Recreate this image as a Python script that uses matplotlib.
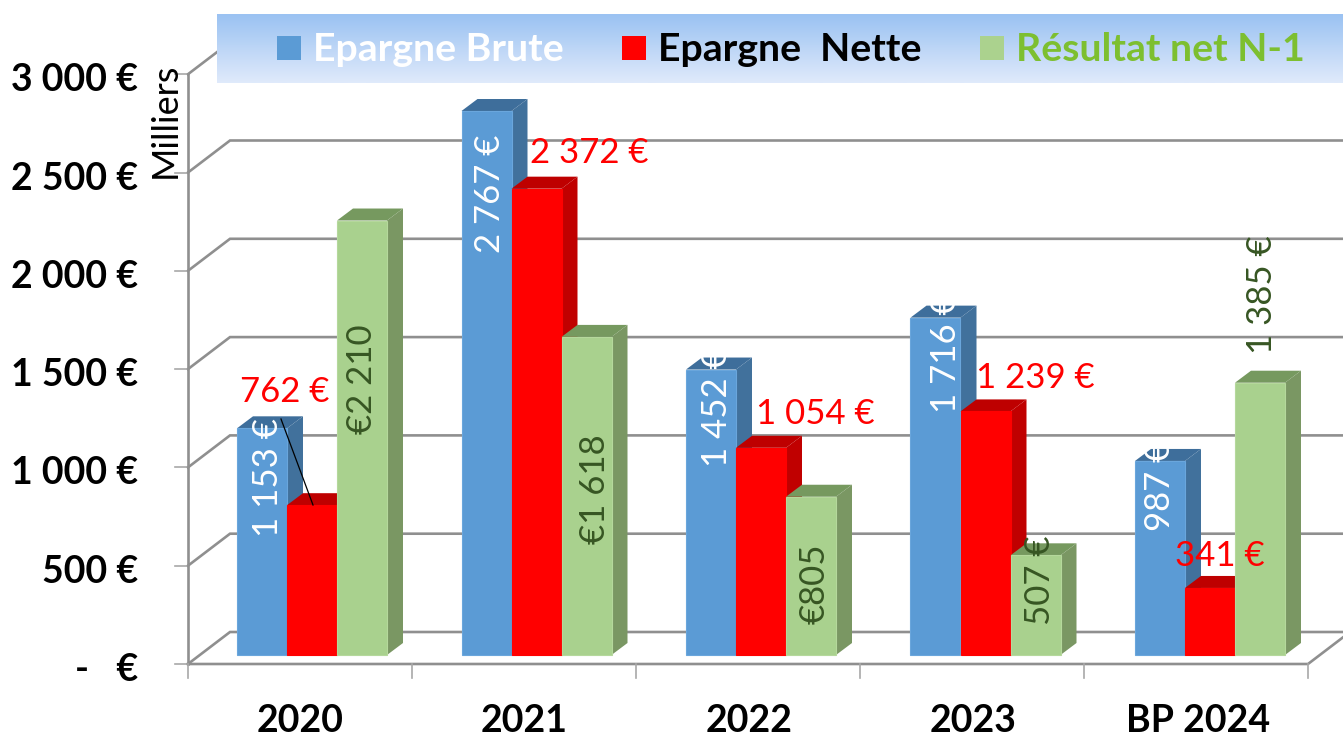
import numpy as np
import matplotlib
matplotlib.use("Agg")
import matplotlib.pyplot as plt
from matplotlib.patches import Rectangle

categories = ["2020", "2021", "2022", "2023", "BP 2024"]
epargne_brute = [1153, 2767, 1452, 1716, 987]
epargne_nette = [762, 2372, 1054, 1239, 341]
resultat_net = [2210, 1618, 805, 507, 1385]
brute_labels = ["1 153 €", "2 767 €", "1 452 €", "1 716 €", "987 €"]
nette_labels = ["762 €", "2 372 €", "1 054 €", "1 239 €", "341 €"]
resultat_labels = ["€2 210", "€1 618", "€805", "507 €", "1 385 €"]
y_ticks = [0, 500, 1000, 1500, 2000, 2500, 3000]
y_tick_labels = ["-   €", "500 €", "1 000 €", "1 500 €", "2 000 €", "2 500 €", "3 000 €"]
legend_names = ["Epargne Brute", "Epargne  Nette", "Résultat net N-1"]

W, H = 1343, 734
PX_CAT = 224.5      # pixels per category
PX_VAL = 0.1966     # pixels per unit of value
X0, Y0 = 312, 655   # pixel of category 0 / value 0 (bar front plane)

plt.rcParams["font.family"] = ["Lato", "DejaVu Sans"]
fig = plt.figure(figsize=(W / 100, H / 100), dpi=100)
ax = fig.add_axes([0, 0, 1, 1])


def cx(px):
    return (np.asarray(px, float) - X0) / PX_CAT


def vy(py):
    return (Y0 - np.asarray(py, float)) / PX_VAL


ax.set_xlim(cx(0), cx(W))
ax.set_ylim(vy(H), vy(0))
ax.axis("off")

BAR_W = 50 / PX_CAT
DX = 16 / PX_CAT
DY = 12 / PX_VAL
GRID = "#8f8f8f"

# walls and floor
F_DY = 9 / PX_VAL          # front plane sits below bar plane
WALL_DX = 42 / PX_CAT
WALL_DY = 32 / PX_VAL
left = cx(188)
right = cx(1308)
for v in y_ticks:
    yf = v - F_DY
    ax.plot([left, left + WALL_DX, cx(W + 5)], [yf, yf + WALL_DY, yf + WALL_DY],
            color=GRID, lw=1.9, zorder=1, solid_joinstyle="miter")
    ax.plot([cx(175), left], [yf, yf], color="#a8a8a8", lw=1.2, zorder=1)
ax.plot([left, left], [0 - F_DY, 3000 - F_DY], color=GRID, lw=1.9, zorder=1)
ax.plot([left, right, right + WALL_DX], [-F_DY, -F_DY, -F_DY + WALL_DY],
        color=GRID, lw=1.9, zorder=1)
for i in range(len(categories) + 1):
    xt = left + i * (right - left) / len(categories)
    ax.plot([xt, xt], [-F_DY, vy(678)], color="#a8a8a8", lw=1.2, zorder=1)

# 3D bars
series = [
    (epargne_brute, -50 / PX_CAT, "#5B9BD5", "#41719C", "#3E6E9B", "#6AA6DC"),
    (epargne_nette, 0.0, "#FF0000", "#C00000", "#BE0000", "#FF0000"),
    (resultat_net, 50 / PX_CAT, "#A9D18E", "#7A9763", "#76995F", "#B5D89C"),
]
z = 2
for k in range(len(categories)):
    for vals, off, front, side, top, edge in series:
        x = k + off
        v = vals[k]
        l, r = x - BAR_W / 2, x + BAR_W / 2
        ax.fill([r, r + DX, r + DX, r], [0, DY, v + DY, v], color=side, lw=0, zorder=z)
        ax.fill([l, l + DX, r + DX, r], [v, v + DY, v + DY, v], color=top, lw=0, zorder=z)
        ax.bar(x, v, width=BAR_W, color=front, edgecolor=edge, lw=0.8, zorder=z + 0.5)
        z += 1

LBL = 25
LZ = 100
brute_pos = [(268, 478), (490, 194), (717, 408), (946, 354), (1160, 486)]
nette_pos = [(285, 392), (589, 153), (815, 414), (1035, 378), (1220, 556)]
result_pos = [(362, 379), (595, 489), (815, 584), (1040, 580), (1262, 295)]
for i in range(len(categories)):
    ax.text(cx(brute_pos[i][0]), vy(brute_pos[i][1]), brute_labels[i], color="white",
            rotation=90, ha="center", va="center", fontsize=LBL, zorder=LZ)
    ax.text(cx(nette_pos[i][0]), vy(nette_pos[i][1]), nette_labels[i], color="#FF0000",
            ha="center", va="center", fontsize=LBL, zorder=LZ)
    ax.text(cx(result_pos[i][0]), vy(result_pos[i][1]), resultat_labels[i], color="#375623",
            rotation=90, ha="center", va="center", fontsize=LBL, zorder=LZ)

ax.plot(cx([281, 313]), vy([419, 505]), color="black", lw=0.9, zorder=LZ)

# legend band
grad = np.linspace(0, 1, 64)[:, None, None]
c_top = np.array([0x9B, 0xC2, 0xF2]) / 255
c_bot = np.array([0xDF, 0xEA, 0xFB]) / 255
img = c_top * (1 - grad) + c_bot * grad
ax.imshow(img, extent=[cx(217), cx(W), vy(83), vy(14)], aspect="auto", zorder=90,
          interpolation="bilinear", origin="upper")
ax.set_xlim(cx(0), cx(W))
ax.set_ylim(vy(H), vy(0))

legend_swatch = ["#5B9BD5", "#FF0000", "#ABD28E"]
legend_text = ["white", "black", "#7DBF30"]
legend_sx = [277, 622, 980]
legend_tx = [313, 658, 1016]
for name, sw, tc, sx, tx in zip(legend_names, legend_swatch, legend_text, legend_sx, legend_tx):
    ax.add_patch(Rectangle((cx(sx), vy(60)), 24 / PX_CAT, 24 / PX_VAL, color=sw, lw=0, zorder=91))
    ax.text(cx(tx), vy(49), name, color=tc, fontweight="bold", fontsize=28.3,
            ha="left", va="center", zorder=92)

# axis texts
for v, lab in zip(y_ticks, y_tick_labels):
    ax.text(cx(138), v - F_DY - 6 / PX_VAL, lab, ha="right", va="center",
            fontweight="bold", fontsize=27, color="black", zorder=LZ)
for k, lab in enumerate(categories):
    ax.text(k - 12 / PX_CAT, vy(721), lab, ha="center", va="center",
            fontweight="bold", fontsize=27, color="black", zorder=LZ)
ax.text(cx(165), vy(120), "Milliers", rotation=90, ha="center", va="center",
        fontsize=26, color="black", zorder=LZ)

fig.savefig("out.png", dpi=100, facecolor="white")
